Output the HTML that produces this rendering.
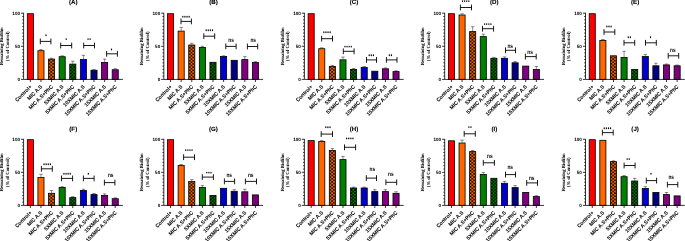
<!DOCTYPE html>
<html><head><meta charset="utf-8"><style>
html,body{margin:0;padding:0;background:#fff;width:685px;height:241px;overflow:hidden}
svg{display:block}
svg{will-change:transform}
text{font-family:"Liberation Sans",sans-serif;font-weight:bold;fill:#000;text-rendering:geometricPrecision}
.t{font-size:62.0px;text-anchor:middle;stroke:#000;stroke-width:1}
.yt{font-family:"Liberation Serif",serif;font-size:47.0px;text-anchor:middle;stroke:#000;stroke-width:0.6}
.yl{font-size:46.0px;text-anchor:end}
.xl{font-size:53.5px;text-anchor:end;stroke:#000;stroke-width:0.5}
.sg{font-size:48.0px;text-anchor:middle}
.ax{fill:none;stroke:#000;stroke-width:0.8}
.bar{stroke:#000;stroke-width:0.8}
.eb{fill:none;stroke:#000;stroke-width:0.45}
.br{fill:none;stroke:#000;stroke-width:0.9}
</style></head><body>
<svg width="685" height="241" viewBox="0 0 685 241">
<defs>
<pattern id="pA2" width="3.5" height="3.2" patternUnits="userSpaceOnUse" x="49.52" y="78.3"><rect width="3.5" height="3.2" fill="#100500"/><circle cx="0" cy="0" r="0.95" fill="#ff6600"/><circle cx="3.5" cy="0" r="0.95" fill="#ff6600"/><circle cx="1.75" cy="1.6" r="0.95" fill="#ff6600"/><circle cx="0" cy="3.2" r="0.95" fill="#ff6600"/><circle cx="3.5" cy="3.2" r="0.95" fill="#ff6600"/></pattern><pattern id="pA4" width="3.5" height="3.2" patternUnits="userSpaceOnUse" x="70.74" y="78.3"><rect width="3.5" height="3.2" fill="#001200"/><circle cx="0" cy="0" r="0.85" fill="#009a00"/><circle cx="3.5" cy="0" r="0.85" fill="#009a00"/><circle cx="1.75" cy="1.6" r="0.85" fill="#009a00"/><circle cx="0" cy="3.2" r="0.85" fill="#009a00"/><circle cx="3.5" cy="3.2" r="0.85" fill="#009a00"/></pattern><pattern id="pB2" width="3.5" height="3.2" patternUnits="userSpaceOnUse" x="189.72" y="78.3"><rect width="3.5" height="3.2" fill="#100500"/><circle cx="0" cy="0" r="0.95" fill="#ff6600"/><circle cx="3.5" cy="0" r="0.95" fill="#ff6600"/><circle cx="1.75" cy="1.6" r="0.95" fill="#ff6600"/><circle cx="0" cy="3.2" r="0.95" fill="#ff6600"/><circle cx="3.5" cy="3.2" r="0.95" fill="#ff6600"/></pattern><pattern id="pB4" width="3.5" height="3.2" patternUnits="userSpaceOnUse" x="210.94" y="78.3"><rect width="3.5" height="3.2" fill="#001200"/><circle cx="0" cy="0" r="0.85" fill="#009a00"/><circle cx="3.5" cy="0" r="0.85" fill="#009a00"/><circle cx="1.75" cy="1.6" r="0.85" fill="#009a00"/><circle cx="0" cy="3.2" r="0.85" fill="#009a00"/><circle cx="3.5" cy="3.2" r="0.85" fill="#009a00"/></pattern><pattern id="pC2" width="3.5" height="3.2" patternUnits="userSpaceOnUse" x="330.32" y="78.3"><rect width="3.5" height="3.2" fill="#100500"/><circle cx="0" cy="0" r="0.95" fill="#ff6600"/><circle cx="3.5" cy="0" r="0.95" fill="#ff6600"/><circle cx="1.75" cy="1.6" r="0.95" fill="#ff6600"/><circle cx="0" cy="3.2" r="0.95" fill="#ff6600"/><circle cx="3.5" cy="3.2" r="0.95" fill="#ff6600"/></pattern><pattern id="pC4" width="3.5" height="3.2" patternUnits="userSpaceOnUse" x="351.54" y="78.3"><rect width="3.5" height="3.2" fill="#001200"/><circle cx="0" cy="0" r="0.85" fill="#009a00"/><circle cx="3.5" cy="0" r="0.85" fill="#009a00"/><circle cx="1.75" cy="1.6" r="0.85" fill="#009a00"/><circle cx="0" cy="3.2" r="0.85" fill="#009a00"/><circle cx="3.5" cy="3.2" r="0.85" fill="#009a00"/></pattern><pattern id="pD2" width="3.5" height="3.2" patternUnits="userSpaceOnUse" x="470.62" y="78.3"><rect width="3.5" height="3.2" fill="#100500"/><circle cx="0" cy="0" r="0.95" fill="#ff6600"/><circle cx="3.5" cy="0" r="0.95" fill="#ff6600"/><circle cx="1.75" cy="1.6" r="0.95" fill="#ff6600"/><circle cx="0" cy="3.2" r="0.95" fill="#ff6600"/><circle cx="3.5" cy="3.2" r="0.95" fill="#ff6600"/></pattern><pattern id="pD4" width="3.5" height="3.2" patternUnits="userSpaceOnUse" x="491.84" y="78.3"><rect width="3.5" height="3.2" fill="#001200"/><circle cx="0" cy="0" r="0.85" fill="#009a00"/><circle cx="3.5" cy="0" r="0.85" fill="#009a00"/><circle cx="1.75" cy="1.6" r="0.85" fill="#009a00"/><circle cx="0" cy="3.2" r="0.85" fill="#009a00"/><circle cx="3.5" cy="3.2" r="0.85" fill="#009a00"/></pattern><pattern id="pE2" width="3.5" height="3.2" patternUnits="userSpaceOnUse" x="611.42" y="78.3"><rect width="3.5" height="3.2" fill="#100500"/><circle cx="0" cy="0" r="0.95" fill="#ff6600"/><circle cx="3.5" cy="0" r="0.95" fill="#ff6600"/><circle cx="1.75" cy="1.6" r="0.95" fill="#ff6600"/><circle cx="0" cy="3.2" r="0.95" fill="#ff6600"/><circle cx="3.5" cy="3.2" r="0.95" fill="#ff6600"/></pattern><pattern id="pE4" width="3.5" height="3.2" patternUnits="userSpaceOnUse" x="632.64" y="78.3"><rect width="3.5" height="3.2" fill="#001200"/><circle cx="0" cy="0" r="0.85" fill="#009a00"/><circle cx="3.5" cy="0" r="0.85" fill="#009a00"/><circle cx="1.75" cy="1.6" r="0.85" fill="#009a00"/><circle cx="0" cy="3.2" r="0.85" fill="#009a00"/><circle cx="3.5" cy="3.2" r="0.85" fill="#009a00"/></pattern><pattern id="pF2" width="3.5" height="3.2" patternUnits="userSpaceOnUse" x="49.52" y="204.3"><rect width="3.5" height="3.2" fill="#100500"/><circle cx="0" cy="0" r="0.95" fill="#ff6600"/><circle cx="3.5" cy="0" r="0.95" fill="#ff6600"/><circle cx="1.75" cy="1.6" r="0.95" fill="#ff6600"/><circle cx="0" cy="3.2" r="0.95" fill="#ff6600"/><circle cx="3.5" cy="3.2" r="0.95" fill="#ff6600"/></pattern><pattern id="pF4" width="3.5" height="3.2" patternUnits="userSpaceOnUse" x="70.74" y="204.3"><rect width="3.5" height="3.2" fill="#001200"/><circle cx="0" cy="0" r="0.85" fill="#009a00"/><circle cx="3.5" cy="0" r="0.85" fill="#009a00"/><circle cx="1.75" cy="1.6" r="0.85" fill="#009a00"/><circle cx="0" cy="3.2" r="0.85" fill="#009a00"/><circle cx="3.5" cy="3.2" r="0.85" fill="#009a00"/></pattern><pattern id="pG2" width="3.5" height="3.2" patternUnits="userSpaceOnUse" x="189.72" y="204.3"><rect width="3.5" height="3.2" fill="#100500"/><circle cx="0" cy="0" r="0.95" fill="#ff6600"/><circle cx="3.5" cy="0" r="0.95" fill="#ff6600"/><circle cx="1.75" cy="1.6" r="0.95" fill="#ff6600"/><circle cx="0" cy="3.2" r="0.95" fill="#ff6600"/><circle cx="3.5" cy="3.2" r="0.95" fill="#ff6600"/></pattern><pattern id="pG4" width="3.5" height="3.2" patternUnits="userSpaceOnUse" x="210.94" y="204.3"><rect width="3.5" height="3.2" fill="#001200"/><circle cx="0" cy="0" r="0.85" fill="#009a00"/><circle cx="3.5" cy="0" r="0.85" fill="#009a00"/><circle cx="1.75" cy="1.6" r="0.85" fill="#009a00"/><circle cx="0" cy="3.2" r="0.85" fill="#009a00"/><circle cx="3.5" cy="3.2" r="0.85" fill="#009a00"/></pattern><pattern id="pH2" width="3.5" height="3.2" patternUnits="userSpaceOnUse" x="330.32" y="204.3"><rect width="3.5" height="3.2" fill="#100500"/><circle cx="0" cy="0" r="0.95" fill="#ff6600"/><circle cx="3.5" cy="0" r="0.95" fill="#ff6600"/><circle cx="1.75" cy="1.6" r="0.95" fill="#ff6600"/><circle cx="0" cy="3.2" r="0.95" fill="#ff6600"/><circle cx="3.5" cy="3.2" r="0.95" fill="#ff6600"/></pattern><pattern id="pH4" width="3.5" height="3.2" patternUnits="userSpaceOnUse" x="351.54" y="204.3"><rect width="3.5" height="3.2" fill="#001200"/><circle cx="0" cy="0" r="0.85" fill="#009a00"/><circle cx="3.5" cy="0" r="0.85" fill="#009a00"/><circle cx="1.75" cy="1.6" r="0.85" fill="#009a00"/><circle cx="0" cy="3.2" r="0.85" fill="#009a00"/><circle cx="3.5" cy="3.2" r="0.85" fill="#009a00"/></pattern><pattern id="pI2" width="3.5" height="3.2" patternUnits="userSpaceOnUse" x="470.62" y="204.3"><rect width="3.5" height="3.2" fill="#100500"/><circle cx="0" cy="0" r="0.95" fill="#ff6600"/><circle cx="3.5" cy="0" r="0.95" fill="#ff6600"/><circle cx="1.75" cy="1.6" r="0.95" fill="#ff6600"/><circle cx="0" cy="3.2" r="0.95" fill="#ff6600"/><circle cx="3.5" cy="3.2" r="0.95" fill="#ff6600"/></pattern><pattern id="pI4" width="3.5" height="3.2" patternUnits="userSpaceOnUse" x="491.84" y="204.3"><rect width="3.5" height="3.2" fill="#001200"/><circle cx="0" cy="0" r="0.85" fill="#009a00"/><circle cx="3.5" cy="0" r="0.85" fill="#009a00"/><circle cx="1.75" cy="1.6" r="0.85" fill="#009a00"/><circle cx="0" cy="3.2" r="0.85" fill="#009a00"/><circle cx="3.5" cy="3.2" r="0.85" fill="#009a00"/></pattern><pattern id="pJ2" width="3.5" height="3.2" patternUnits="userSpaceOnUse" x="611.42" y="204.3"><rect width="3.5" height="3.2" fill="#100500"/><circle cx="0" cy="0" r="0.95" fill="#ff6600"/><circle cx="3.5" cy="0" r="0.95" fill="#ff6600"/><circle cx="1.75" cy="1.6" r="0.95" fill="#ff6600"/><circle cx="0" cy="3.2" r="0.95" fill="#ff6600"/><circle cx="3.5" cy="3.2" r="0.95" fill="#ff6600"/></pattern><pattern id="pJ4" width="3.5" height="3.2" patternUnits="userSpaceOnUse" x="632.64" y="204.3"><rect width="3.5" height="3.2" fill="#001200"/><circle cx="0" cy="0" r="0.85" fill="#009a00"/><circle cx="3.5" cy="0" r="0.85" fill="#009a00"/><circle cx="1.75" cy="1.6" r="0.85" fill="#009a00"/><circle cx="0" cy="3.2" r="0.85" fill="#009a00"/><circle cx="3.5" cy="3.2" r="0.85" fill="#009a00"/></pattern>
</defs>
<g><text class="t" transform="translate(73.25,4.1) scale(0.1)">(A)</text><text class="yt" transform="translate(2.8,46.3) rotate(-90) scale(0.1)">Remaining Biofilm</text><text class="yt" transform="translate(8.5,46.3) rotate(-90) scale(0.1)">(% of Control)</text><path class="ax" d="M21 79.4H23.6M22.3 76.09H23.6M22.3 72.78H23.6M22.3 69.47H23.6M22.3 66.16H23.6M22.3 62.85H23.6M22.3 59.54H23.6M22.3 56.23H23.6M22.3 52.92H23.6M22.3 49.61H23.6M21 46.3H23.6M22.3 42.99H23.6M22.3 39.68H23.6M22.3 36.37H23.6M22.3 33.06H23.6M22.3 29.75H23.6M22.3 26.44H23.6M22.3 23.13H23.6M22.3 19.82H23.6M22.3 16.51H23.6M21 13.2H23.6"/><text class="yl" transform="translate(20,81.15) scale(0.1)">0</text><text class="yl" transform="translate(20,48.05) scale(0.1)">50</text><text class="yl" transform="translate(20,14.95) scale(0.1)">100</text><rect x="27.3" y="13.7" width="6.1" height="65.7" fill="#ff0000" class="bar"/><path class="eb" d="M40.96 50.3V49.6M39.26 49.6H42.66"/><rect x="37.91" y="50.7" width="6.1" height="28.7" fill="#ff6600" class="bar"/><path class="eb" d="M51.57 58.7V58.2M49.87 58.2H53.27"/><rect x="48.52" y="59.1" width="6.1" height="20.3" fill="url(#pA2)" class="bar"/><path class="eb" d="M62.18 56.3V55.8M60.48 55.8H63.88"/><rect x="59.13" y="56.7" width="6.1" height="22.7" fill="#008000" class="bar"/><path class="eb" d="M72.79 63.7V61.2M71.09 61.2H74.49"/><rect x="69.74" y="64.1" width="6.1" height="15.3" fill="url(#pA4)" class="bar"/><path class="eb" d="M83.4 59.1V55.3M81.7 55.3H85.1"/><rect x="80.35" y="59.5" width="6.1" height="19.9" fill="#0000cc" class="bar"/><path class="eb" d="M94.01 69.85V69.5M92.31 69.5H95.71"/><rect x="90.96" y="70.25" width="6.1" height="9.15" fill="#000080" class="bar"/><path class="eb" d="M104.62 62.05V59.1M102.92 59.1H106.32"/><rect x="101.57" y="62.45" width="6.1" height="16.95" fill="#800080" class="bar"/><path class="eb" d="M115.23 69.35V68.7M113.53 68.7H116.93"/><rect x="112.18" y="69.75" width="6.1" height="9.65" fill="#780078" class="bar"/><path class="ax" d="M23.6 12.8V79.4H122.9M30.35 79.4v2.6M40.96 79.4v2.6M51.57 79.4v2.6M62.18 79.4v2.6M72.79 79.4v2.6M83.4 79.4v2.6M94.01 79.4v2.6M104.62 79.4v2.6M115.23 79.4v2.6"/><text class="xl" transform="translate(32.15,87.1) rotate(-45) scale(0.095,0.1)">Control+</text><text class="xl" transform="translate(42.76,87.1) rotate(-45) scale(0.095,0.1)">MIC A.S</text><text class="xl" transform="translate(53.37,87.1) rotate(-45) scale(0.095,0.1)">MIC A.S+PhC</text><text class="xl" transform="translate(63.98,87.1) rotate(-45) scale(0.095,0.1)">5XMIC A.S</text><text class="xl" transform="translate(74.59,87.1) rotate(-45) scale(0.095,0.1)">5XMIC A.S+PhC</text><text class="xl" transform="translate(85.2,87.1) rotate(-45) scale(0.095,0.1)">10XMIC A.S</text><text class="xl" transform="translate(95.81,87.1) rotate(-45) scale(0.095,0.1)">10XMIC A.S+PhC</text><text class="xl" transform="translate(106.42,87.1) rotate(-45) scale(0.095,0.1)">15XMIC A.S</text><text class="xl" transform="translate(117.03,87.1) rotate(-45) scale(0.095,0.1)">15XMIC A.S+PhC</text><path class="br" d="M40.3 38.5V44.3M50.9 38.5V44.3M40.3 41.4H50.9"/><ellipse cx="46" cy="35.2" rx="0.65" ry="0.95"/><path class="br" d="M60.7 42.6V48.4M71.7 42.6V48.4M60.7 45.5H71.7"/><ellipse cx="66.2" cy="39.1" rx="0.65" ry="0.95"/><path class="br" d="M83.7 42.6V48.4M94.5 42.6V48.4M83.7 45.5H94.5"/><ellipse cx="88.05" cy="39.1" rx="0.65" ry="0.95"/><ellipse cx="90.15" cy="39.1" rx="0.65" ry="0.95"/><path class="br" d="M106.6 50.9V56.7M117.4 50.9V56.7M106.6 53.8H117.4"/><ellipse cx="111.5" cy="49.5" rx="0.65" ry="0.95"/></g><g><text class="t" transform="translate(213.45,4.1) scale(0.1)">(B)</text><text class="yt" transform="translate(143,46.3) rotate(-90) scale(0.1)">Remaining Biofilm</text><text class="yt" transform="translate(148.7,46.3) rotate(-90) scale(0.1)">(% of Control)</text><path class="ax" d="M161.2 79.4H163.8M162.5 76.09H163.8M162.5 72.78H163.8M162.5 69.47H163.8M162.5 66.16H163.8M162.5 62.85H163.8M162.5 59.54H163.8M162.5 56.23H163.8M162.5 52.92H163.8M162.5 49.61H163.8M161.2 46.3H163.8M162.5 42.99H163.8M162.5 39.68H163.8M162.5 36.37H163.8M162.5 33.06H163.8M162.5 29.75H163.8M162.5 26.44H163.8M162.5 23.13H163.8M162.5 19.82H163.8M162.5 16.51H163.8M161.2 13.2H163.8"/><text class="yl" transform="translate(160.2,81.15) scale(0.1)">0</text><text class="yl" transform="translate(160.2,48.05) scale(0.1)">50</text><text class="yl" transform="translate(160.2,14.95) scale(0.1)">100</text><rect x="167.5" y="13.7" width="6.1" height="65.7" fill="#ff0000" class="bar"/><path class="eb" d="M181.16 30.7V27.4M179.46 27.4H182.86"/><rect x="178.11" y="31.1" width="6.1" height="48.3" fill="#ff6600" class="bar"/><path class="eb" d="M191.77 44.6V43.3M190.07 43.3H193.47"/><rect x="188.72" y="45" width="6.1" height="34.4" fill="url(#pB2)" class="bar"/><path class="eb" d="M202.38 47V46.3M200.68 46.3H204.08"/><rect x="199.33" y="47.4" width="6.1" height="32" fill="#008000" class="bar"/><rect x="209.94" y="62.3" width="6.1" height="17.1" fill="url(#pB4)" class="bar"/><path class="eb" d="M223.6 56.1V55.8M221.9 55.8H225.3"/><rect x="220.55" y="56.5" width="6.1" height="22.9" fill="#0000cc" class="bar"/><rect x="231.16" y="60.3" width="6.1" height="19.1" fill="#000080" class="bar"/><path class="eb" d="M244.82 59.2V56.6M243.12 56.6H246.52"/><rect x="241.77" y="59.6" width="6.1" height="19.8" fill="#800080" class="bar"/><path class="eb" d="M255.43 62.1V61.7M253.73 61.7H257.13"/><rect x="252.38" y="62.5" width="6.1" height="16.9" fill="#780078" class="bar"/><path class="ax" d="M163.8 12.8V79.4H263.1M170.55 79.4v2.6M181.16 79.4v2.6M191.77 79.4v2.6M202.38 79.4v2.6M212.99 79.4v2.6M223.6 79.4v2.6M234.21 79.4v2.6M244.82 79.4v2.6M255.43 79.4v2.6"/><text class="xl" transform="translate(172.35,87.1) rotate(-45) scale(0.095,0.1)">Control+</text><text class="xl" transform="translate(182.96,87.1) rotate(-45) scale(0.095,0.1)">MIC A.S</text><text class="xl" transform="translate(193.57,87.1) rotate(-45) scale(0.095,0.1)">MIC A.S+PhC</text><text class="xl" transform="translate(204.18,87.1) rotate(-45) scale(0.095,0.1)">5XMIC A.S</text><text class="xl" transform="translate(214.79,87.1) rotate(-45) scale(0.095,0.1)">5XMIC A.S+PhC</text><text class="xl" transform="translate(225.4,87.1) rotate(-45) scale(0.095,0.1)">10XMIC A.S</text><text class="xl" transform="translate(236.01,87.1) rotate(-45) scale(0.095,0.1)">10XMIC A.S+PhC</text><text class="xl" transform="translate(246.62,87.1) rotate(-45) scale(0.095,0.1)">15XMIC A.S</text><text class="xl" transform="translate(257.23,87.1) rotate(-45) scale(0.095,0.1)">15XMIC A.S+PhC</text><path class="br" d="M181 18.5V24.3M191.4 18.5V24.3M181 21.4H191.4"/><ellipse cx="182.85" cy="16.7" rx="0.65" ry="0.95"/><ellipse cx="184.95" cy="16.7" rx="0.65" ry="0.95"/><ellipse cx="187.05" cy="16.7" rx="0.65" ry="0.95"/><ellipse cx="189.15" cy="16.7" rx="0.65" ry="0.95"/><path class="br" d="M203.8 33.3V39.1M214.7 33.3V39.1M203.8 36.2H214.7"/><ellipse cx="206.15" cy="30.2" rx="0.65" ry="0.95"/><ellipse cx="208.25" cy="30.2" rx="0.65" ry="0.95"/><ellipse cx="210.35" cy="30.2" rx="0.65" ry="0.95"/><ellipse cx="212.45" cy="30.2" rx="0.65" ry="0.95"/><path class="br" d="M225.8 43.5V49.3M236.1 43.5V49.3M225.8 46.4H236.1"/><text class="sg" transform="translate(231,41.62) scale(0.1,0.13)">ns</text><path class="br" d="M247.4 43.6V49.4M257.7 43.6V49.4M247.4 46.5H257.7"/><text class="sg" transform="translate(253.2,41.62) scale(0.1,0.13)">ns</text></g><g><text class="t" transform="translate(354.05,4.1) scale(0.1)">(C)</text><text class="yt" transform="translate(283.6,46.3) rotate(-90) scale(0.1)">Remaining Biofilm</text><text class="yt" transform="translate(289.3,46.3) rotate(-90) scale(0.1)">(% of Control)</text><path class="ax" d="M301.8 79.4H304.4M303.1 76.09H304.4M303.1 72.78H304.4M303.1 69.47H304.4M303.1 66.16H304.4M303.1 62.85H304.4M303.1 59.54H304.4M303.1 56.23H304.4M303.1 52.92H304.4M303.1 49.61H304.4M301.8 46.3H304.4M303.1 42.99H304.4M303.1 39.68H304.4M303.1 36.37H304.4M303.1 33.06H304.4M303.1 29.75H304.4M303.1 26.44H304.4M303.1 23.13H304.4M303.1 19.82H304.4M303.1 16.51H304.4M301.8 13.2H304.4"/><text class="yl" transform="translate(300.8,81.15) scale(0.1)">0</text><text class="yl" transform="translate(300.8,48.05) scale(0.1)">50</text><text class="yl" transform="translate(300.8,14.95) scale(0.1)">100</text><rect x="308.1" y="13.7" width="6.1" height="65.7" fill="#ff0000" class="bar"/><path class="eb" d="M321.76 48.3V47.8M320.06 47.8H323.46"/><rect x="318.71" y="48.7" width="6.1" height="30.7" fill="#ff6600" class="bar"/><path class="eb" d="M332.37 66V65.4M330.67 65.4H334.07"/><rect x="329.32" y="66.4" width="6.1" height="13" fill="url(#pC2)" class="bar"/><path class="eb" d="M342.98 59.4V57.1M341.28 57.1H344.68"/><rect x="339.93" y="59.8" width="6.1" height="19.6" fill="#008000" class="bar"/><path class="eb" d="M353.59 69V68.5M351.89 68.5H355.29"/><rect x="350.54" y="69.4" width="6.1" height="10" fill="url(#pC4)" class="bar"/><path class="eb" d="M364.2 67V66.5M362.5 66.5H365.9"/><rect x="361.15" y="67.4" width="6.1" height="12" fill="#0000cc" class="bar"/><rect x="371.76" y="71.2" width="6.1" height="8.2" fill="#000080" class="bar"/><path class="eb" d="M385.42 68.4V67.9M383.72 67.9H387.12"/><rect x="382.37" y="68.8" width="6.1" height="10.6" fill="#800080" class="bar"/><path class="eb" d="M396.03 71.2V70.8M394.33 70.8H397.73"/><rect x="392.98" y="71.6" width="6.1" height="7.8" fill="#780078" class="bar"/><path class="ax" d="M304.4 12.8V79.4H403.7M311.15 79.4v2.6M321.76 79.4v2.6M332.37 79.4v2.6M342.98 79.4v2.6M353.59 79.4v2.6M364.2 79.4v2.6M374.81 79.4v2.6M385.42 79.4v2.6M396.03 79.4v2.6"/><text class="xl" transform="translate(312.95,87.1) rotate(-45) scale(0.095,0.1)">Control+</text><text class="xl" transform="translate(323.56,87.1) rotate(-45) scale(0.095,0.1)">MIC A.S</text><text class="xl" transform="translate(334.17,87.1) rotate(-45) scale(0.095,0.1)">MIC A.S+PhC</text><text class="xl" transform="translate(344.78,87.1) rotate(-45) scale(0.095,0.1)">5XMIC A.S</text><text class="xl" transform="translate(355.39,87.1) rotate(-45) scale(0.095,0.1)">5XMIC A.S+PhC</text><text class="xl" transform="translate(366,87.1) rotate(-45) scale(0.095,0.1)">10XMIC A.S</text><text class="xl" transform="translate(376.61,87.1) rotate(-45) scale(0.095,0.1)">10XMIC A.S+PhC</text><text class="xl" transform="translate(387.22,87.1) rotate(-45) scale(0.095,0.1)">15XMIC A.S</text><text class="xl" transform="translate(397.83,87.1) rotate(-45) scale(0.095,0.1)">15XMIC A.S+PhC</text><path class="br" d="M321.6 35.8V41.6M332.5 35.8V41.6M321.6 38.7H332.5"/><ellipse cx="323.85" cy="32.3" rx="0.65" ry="0.95"/><ellipse cx="325.95" cy="32.3" rx="0.65" ry="0.95"/><ellipse cx="328.05" cy="32.3" rx="0.65" ry="0.95"/><ellipse cx="330.15" cy="32.3" rx="0.65" ry="0.95"/><path class="br" d="M343.3 48.4V54.2M354.1 48.4V54.2M343.3 51.3H354.1"/><ellipse cx="344.95" cy="46.6" rx="0.65" ry="0.95"/><ellipse cx="347.05" cy="46.6" rx="0.65" ry="0.95"/><ellipse cx="349.15" cy="46.6" rx="0.65" ry="0.95"/><ellipse cx="351.25" cy="46.6" rx="0.65" ry="0.95"/><path class="br" d="M366.5 57V62.8M376.5 57V62.8M366.5 59.9H376.5"/><ellipse cx="369.2" cy="55.2" rx="0.65" ry="0.95"/><ellipse cx="371.3" cy="55.2" rx="0.65" ry="0.95"/><ellipse cx="373.4" cy="55.2" rx="0.65" ry="0.95"/><path class="br" d="M386.4 57V62.8M397 57V62.8M386.4 59.9H397"/><ellipse cx="389.35" cy="55.2" rx="0.65" ry="0.95"/><ellipse cx="391.45" cy="55.2" rx="0.65" ry="0.95"/></g><g><text class="t" transform="translate(494.35,4.1) scale(0.1)">(D)</text><text class="yt" transform="translate(423.9,46.3) rotate(-90) scale(0.1)">Remaining Biofilm</text><text class="yt" transform="translate(429.6,46.3) rotate(-90) scale(0.1)">(% of Control)</text><path class="ax" d="M442.1 79.4H444.7M443.4 76.09H444.7M443.4 72.78H444.7M443.4 69.47H444.7M443.4 66.16H444.7M443.4 62.85H444.7M443.4 59.54H444.7M443.4 56.23H444.7M443.4 52.92H444.7M443.4 49.61H444.7M442.1 46.3H444.7M443.4 42.99H444.7M443.4 39.68H444.7M443.4 36.37H444.7M443.4 33.06H444.7M443.4 29.75H444.7M443.4 26.44H444.7M443.4 23.13H444.7M443.4 19.82H444.7M443.4 16.51H444.7M442.1 13.2H444.7"/><text class="yl" transform="translate(441.1,81.15) scale(0.1)">0</text><text class="yl" transform="translate(441.1,48.05) scale(0.1)">50</text><text class="yl" transform="translate(441.1,14.95) scale(0.1)">100</text><rect x="448.4" y="13.7" width="6.1" height="65.7" fill="#ff0000" class="bar"/><path class="eb" d="M462.06 14.6V13.8M460.36 13.8H463.76"/><rect x="459.01" y="15" width="6.1" height="64.4" fill="#ff6600" class="bar"/><path class="eb" d="M472.67 31.2V26.7M470.97 26.7H474.37"/><rect x="469.62" y="31.6" width="6.1" height="47.8" fill="url(#pD2)" class="bar"/><path class="eb" d="M483.28 36.2V34.2M481.58 34.2H484.98"/><rect x="480.23" y="36.6" width="6.1" height="42.8" fill="#008000" class="bar"/><path class="eb" d="M493.89 57.9V57.4M492.19 57.4H495.59"/><rect x="490.84" y="58.3" width="6.1" height="21.1" fill="url(#pD4)" class="bar"/><path class="eb" d="M504.5 57.9V56.9M502.8 56.9H506.2"/><rect x="501.45" y="58.3" width="6.1" height="21.1" fill="#0000cc" class="bar"/><path class="eb" d="M515.11 62.4V61.6M513.41 61.6H516.81"/><rect x="512.06" y="62.8" width="6.1" height="16.6" fill="#000080" class="bar"/><rect x="522.67" y="66.1" width="6.1" height="13.3" fill="#800080" class="bar"/><path class="eb" d="M536.33 69V66.5M534.63 66.5H538.03"/><rect x="533.28" y="69.4" width="6.1" height="10" fill="#780078" class="bar"/><path class="ax" d="M444.7 12.8V79.4H544M451.45 79.4v2.6M462.06 79.4v2.6M472.67 79.4v2.6M483.28 79.4v2.6M493.89 79.4v2.6M504.5 79.4v2.6M515.11 79.4v2.6M525.72 79.4v2.6M536.33 79.4v2.6"/><text class="xl" transform="translate(453.25,87.1) rotate(-45) scale(0.095,0.1)">Control+</text><text class="xl" transform="translate(463.86,87.1) rotate(-45) scale(0.095,0.1)">MIC A.S</text><text class="xl" transform="translate(474.47,87.1) rotate(-45) scale(0.095,0.1)">MIC A.S+PhC</text><text class="xl" transform="translate(485.08,87.1) rotate(-45) scale(0.095,0.1)">5XMIC A.S</text><text class="xl" transform="translate(495.69,87.1) rotate(-45) scale(0.095,0.1)">5XMIC A.S+PhC</text><text class="xl" transform="translate(506.3,87.1) rotate(-45) scale(0.095,0.1)">10XMIC A.S</text><text class="xl" transform="translate(516.91,87.1) rotate(-45) scale(0.095,0.1)">10XMIC A.S+PhC</text><text class="xl" transform="translate(527.52,87.1) rotate(-45) scale(0.095,0.1)">15XMIC A.S</text><text class="xl" transform="translate(538.13,87.1) rotate(-45) scale(0.095,0.1)">15XMIC A.S+PhC</text><path class="br" d="M460.4 4.6V10.4M471.5 4.6V10.4M460.4 7.5H471.5"/><ellipse cx="462.55" cy="1.1" rx="0.65" ry="0.95"/><ellipse cx="464.65" cy="1.1" rx="0.65" ry="0.95"/><ellipse cx="466.75" cy="1.1" rx="0.65" ry="0.95"/><ellipse cx="468.85" cy="1.1" rx="0.65" ry="0.95"/><path class="br" d="M482.5 25.8V31.6M493.6 25.8V31.6M482.5 28.7H493.6"/><ellipse cx="484.65" cy="24.1" rx="0.65" ry="0.95"/><ellipse cx="486.75" cy="24.1" rx="0.65" ry="0.95"/><ellipse cx="488.85" cy="24.1" rx="0.65" ry="0.95"/><ellipse cx="490.95" cy="24.1" rx="0.65" ry="0.95"/><path class="br" d="M505.5 47.4V53.2M515.5 47.4V53.2M505.5 50.3H515.5"/><text class="sg" transform="translate(510.2,47.92) scale(0.1,0.13)">ns</text><path class="br" d="M525.4 53.7V59.5M536.2 53.7V59.5M525.4 56.6H536.2"/><text class="sg" transform="translate(530.1,54.02) scale(0.1,0.13)">ns</text></g><g><text class="t" transform="translate(635.15,4.1) scale(0.1)">(E)</text><text class="yt" transform="translate(564.7,46.3) rotate(-90) scale(0.1)">Remaining Biofilm</text><text class="yt" transform="translate(570.4,46.3) rotate(-90) scale(0.1)">(% of Control)</text><path class="ax" d="M582.9 79.4H585.5M584.2 76.09H585.5M584.2 72.78H585.5M584.2 69.47H585.5M584.2 66.16H585.5M584.2 62.85H585.5M584.2 59.54H585.5M584.2 56.23H585.5M584.2 52.92H585.5M584.2 49.61H585.5M582.9 46.3H585.5M584.2 42.99H585.5M584.2 39.68H585.5M584.2 36.37H585.5M584.2 33.06H585.5M584.2 29.75H585.5M584.2 26.44H585.5M584.2 23.13H585.5M584.2 19.82H585.5M584.2 16.51H585.5M582.9 13.2H585.5"/><text class="yl" transform="translate(581.9,81.15) scale(0.1)">0</text><text class="yl" transform="translate(581.9,48.05) scale(0.1)">50</text><text class="yl" transform="translate(581.9,14.95) scale(0.1)">100</text><rect x="589.2" y="13.7" width="6.1" height="65.7" fill="#ff0000" class="bar"/><path class="eb" d="M602.86 40V39.5M601.16 39.5H604.56"/><rect x="599.81" y="40.4" width="6.1" height="39" fill="#ff6600" class="bar"/><rect x="610.42" y="55.8" width="6.1" height="23.6" fill="url(#pE2)" class="bar"/><path class="eb" d="M624.08 57.1V51.3M622.38 51.3H625.78"/><rect x="621.03" y="57.5" width="6.1" height="21.9" fill="#008000" class="bar"/><rect x="631.64" y="69.4" width="6.1" height="10" fill="url(#pE4)" class="bar"/><path class="eb" d="M645.3 56.1V54.6M643.6 54.6H647"/><rect x="642.25" y="56.5" width="6.1" height="22.9" fill="#0000cc" class="bar"/><path class="eb" d="M655.91 65.4V63.2M654.21 63.2H657.61"/><rect x="652.86" y="65.8" width="6.1" height="13.6" fill="#000080" class="bar"/><path class="eb" d="M666.52 64.5V64M664.82 64H668.22"/><rect x="663.47" y="64.9" width="6.1" height="14.5" fill="#800080" class="bar"/><path class="eb" d="M677.13 65.4V65M675.43 65H678.83"/><rect x="674.08" y="65.8" width="6.1" height="13.6" fill="#780078" class="bar"/><path class="ax" d="M585.5 12.8V79.4H684.8M592.25 79.4v2.6M602.86 79.4v2.6M613.47 79.4v2.6M624.08 79.4v2.6M634.69 79.4v2.6M645.3 79.4v2.6M655.91 79.4v2.6M666.52 79.4v2.6M677.13 79.4v2.6"/><text class="xl" transform="translate(594.05,87.1) rotate(-45) scale(0.095,0.1)">Control+</text><text class="xl" transform="translate(604.66,87.1) rotate(-45) scale(0.095,0.1)">MIC A.S</text><text class="xl" transform="translate(615.27,87.1) rotate(-45) scale(0.095,0.1)">MIC A.S+PhC</text><text class="xl" transform="translate(625.88,87.1) rotate(-45) scale(0.095,0.1)">5XMIC A.S</text><text class="xl" transform="translate(636.49,87.1) rotate(-45) scale(0.095,0.1)">5XMIC A.S+PhC</text><text class="xl" transform="translate(647.1,87.1) rotate(-45) scale(0.095,0.1)">10XMIC A.S</text><text class="xl" transform="translate(657.71,87.1) rotate(-45) scale(0.095,0.1)">10XMIC A.S+PhC</text><text class="xl" transform="translate(668.32,87.1) rotate(-45) scale(0.095,0.1)">15XMIC A.S</text><text class="xl" transform="translate(678.93,87.1) rotate(-45) scale(0.095,0.1)">15XMIC A.S+PhC</text><path class="br" d="M604 29.1V34.9M614.8 29.1V34.9M604 32H614.8"/><ellipse cx="606.9" cy="26.5" rx="0.65" ry="0.95"/><ellipse cx="609" cy="26.5" rx="0.65" ry="0.95"/><ellipse cx="611.1" cy="26.5" rx="0.65" ry="0.95"/><path class="br" d="M624 39.9V45.7M634.7 39.9V45.7M624 42.8H634.7"/><ellipse cx="628.25" cy="37.3" rx="0.65" ry="0.95"/><ellipse cx="630.35" cy="37.3" rx="0.65" ry="0.95"/><path class="br" d="M645.5 39.9V45.7M656.3 39.9V45.7M645.5 42.8H656.3"/><ellipse cx="650.5" cy="37.3" rx="0.65" ry="0.95"/><path class="br" d="M668.2 52.9V58.7M678.7 52.9V58.7M668.2 55.8H678.7"/><text class="sg" transform="translate(672.9,51.62) scale(0.1,0.13)">ns</text></g><g><text class="t" transform="translate(73.25,130.6) scale(0.1)">(F)</text><text class="yt" transform="translate(2.8,172.35) rotate(-90) scale(0.1)">Remaining Biofilm</text><text class="yt" transform="translate(8.5,172.35) rotate(-90) scale(0.1)">(% of Control)</text><path class="ax" d="M21 205.4H23.6M22.3 202.09H23.6M22.3 198.79H23.6M22.3 195.49H23.6M22.3 192.18H23.6M22.3 188.88H23.6M22.3 185.57H23.6M22.3 182.27H23.6M22.3 178.96H23.6M22.3 175.66H23.6M21 172.35H23.6M22.3 169.05H23.6M22.3 165.74H23.6M22.3 162.44H23.6M22.3 159.13H23.6M22.3 155.83H23.6M22.3 152.52H23.6M22.3 149.22H23.6M22.3 145.91H23.6M22.3 142.61H23.6M21 139.3H23.6"/><text class="yl" transform="translate(20,207.15) scale(0.1)">0</text><text class="yl" transform="translate(20,174.1) scale(0.1)">50</text><text class="yl" transform="translate(20,141.05) scale(0.1)">100</text><rect x="27.3" y="139.7" width="6.1" height="65.7" fill="#ff0000" class="bar"/><path class="eb" d="M40.96 177.1V174.3M39.26 174.3H42.66"/><rect x="37.91" y="177.5" width="6.1" height="27.9" fill="#ff6600" class="bar"/><path class="eb" d="M51.57 192.9V190.5M49.87 190.5H53.27"/><rect x="48.52" y="193.3" width="6.1" height="12.1" fill="url(#pF2)" class="bar"/><path class="eb" d="M62.18 187.1V186.7M60.48 186.7H63.88"/><rect x="59.13" y="187.5" width="6.1" height="17.9" fill="#008000" class="bar"/><path class="eb" d="M72.79 197.2V196.7M71.09 196.7H74.49"/><rect x="69.74" y="197.6" width="6.1" height="7.8" fill="url(#pF4)" class="bar"/><path class="eb" d="M83.4 190.1V189.2M81.7 189.2H85.1"/><rect x="80.35" y="190.5" width="6.1" height="14.9" fill="#0000cc" class="bar"/><path class="eb" d="M94.01 194.2V193.5M92.31 193.5H95.71"/><rect x="90.96" y="194.6" width="6.1" height="10.8" fill="#000080" class="bar"/><path class="eb" d="M104.62 195V193.9M102.92 193.9H106.32"/><rect x="101.57" y="195.4" width="6.1" height="10" fill="#800080" class="bar"/><path class="eb" d="M115.23 198.3V197.8M113.53 197.8H116.93"/><rect x="112.18" y="198.7" width="6.1" height="6.7" fill="#780078" class="bar"/><path class="ax" d="M23.6 138.9V205.4H122.9M30.35 205.4v2.6M40.96 205.4v2.6M51.57 205.4v2.6M62.18 205.4v2.6M72.79 205.4v2.6M83.4 205.4v2.6M94.01 205.4v2.6M104.62 205.4v2.6M115.23 205.4v2.6"/><text class="xl" transform="translate(32.15,213.1) rotate(-45) scale(0.095,0.1)">Control+</text><text class="xl" transform="translate(42.76,213.1) rotate(-45) scale(0.095,0.1)">MIC A.S</text><text class="xl" transform="translate(53.37,213.1) rotate(-45) scale(0.095,0.1)">MIC A.S+PhC</text><text class="xl" transform="translate(63.98,213.1) rotate(-45) scale(0.095,0.1)">5XMIC A.S</text><text class="xl" transform="translate(74.59,213.1) rotate(-45) scale(0.095,0.1)">5XMIC A.S+PhC</text><text class="xl" transform="translate(85.2,213.1) rotate(-45) scale(0.095,0.1)">10XMIC A.S</text><text class="xl" transform="translate(95.81,213.1) rotate(-45) scale(0.095,0.1)">10XMIC A.S+PhC</text><text class="xl" transform="translate(106.42,213.1) rotate(-45) scale(0.095,0.1)">15XMIC A.S</text><text class="xl" transform="translate(117.03,213.1) rotate(-45) scale(0.095,0.1)">15XMIC A.S+PhC</text><path class="br" d="M41.4 165.9V171.7M52.3 165.9V171.7M41.4 168.8H52.3"/><ellipse cx="44.05" cy="164.2" rx="0.65" ry="0.95"/><ellipse cx="46.15" cy="164.2" rx="0.65" ry="0.95"/><ellipse cx="48.25" cy="164.2" rx="0.65" ry="0.95"/><ellipse cx="50.35" cy="164.2" rx="0.65" ry="0.95"/><path class="br" d="M61.5 175.5V181.3M72.6 175.5V181.3M61.5 178.4H72.6"/><ellipse cx="63.95" cy="173.8" rx="0.65" ry="0.95"/><ellipse cx="66.05" cy="173.8" rx="0.65" ry="0.95"/><ellipse cx="68.15" cy="173.8" rx="0.65" ry="0.95"/><ellipse cx="70.25" cy="173.8" rx="0.65" ry="0.95"/><path class="br" d="M83.4 175.5V181.3M94.1 175.5V181.3M83.4 178.4H94.1"/><ellipse cx="88.3" cy="173.8" rx="0.65" ry="0.95"/><path class="br" d="M104.4 179.7V185.5M114.9 179.7V185.5M104.4 182.6H114.9"/><text class="sg" transform="translate(110.7,177.22) scale(0.1,0.13)">ns</text></g><g><text class="t" transform="translate(213.45,130.6) scale(0.1)">(G)</text><text class="yt" transform="translate(143,172.35) rotate(-90) scale(0.1)">Remaining Biofilm</text><text class="yt" transform="translate(148.7,172.35) rotate(-90) scale(0.1)">(% of Control)</text><path class="ax" d="M161.2 205.4H163.8M162.5 202.09H163.8M162.5 198.79H163.8M162.5 195.49H163.8M162.5 192.18H163.8M162.5 188.88H163.8M162.5 185.57H163.8M162.5 182.27H163.8M162.5 178.96H163.8M162.5 175.66H163.8M161.2 172.35H163.8M162.5 169.05H163.8M162.5 165.74H163.8M162.5 162.44H163.8M162.5 159.13H163.8M162.5 155.83H163.8M162.5 152.52H163.8M162.5 149.22H163.8M162.5 145.91H163.8M162.5 142.61H163.8M161.2 139.3H163.8"/><text class="yl" transform="translate(160.2,207.15) scale(0.1)">0</text><text class="yl" transform="translate(160.2,174.1) scale(0.1)">50</text><text class="yl" transform="translate(160.2,141.05) scale(0.1)">100</text><rect x="167.5" y="139.7" width="6.1" height="65.7" fill="#ff0000" class="bar"/><path class="eb" d="M181.16 165V164.5M179.46 164.5H182.86"/><rect x="178.11" y="165.4" width="6.1" height="40" fill="#ff6600" class="bar"/><path class="eb" d="M191.77 181.1V179.6M190.07 179.6H193.47"/><rect x="188.72" y="181.5" width="6.1" height="23.9" fill="url(#pG2)" class="bar"/><path class="eb" d="M202.38 187.1V185.6M200.68 185.6H204.08"/><rect x="199.33" y="187.5" width="6.1" height="17.9" fill="#008000" class="bar"/><rect x="209.94" y="195.4" width="6.1" height="10" fill="url(#pG4)" class="bar"/><rect x="220.55" y="188.3" width="6.1" height="17.1" fill="#0000cc" class="bar"/><path class="eb" d="M234.21 190.9V189.7M232.51 189.7H235.91"/><rect x="231.16" y="191.3" width="6.1" height="14.1" fill="#000080" class="bar"/><path class="eb" d="M244.82 191.4V189.2M243.12 189.2H246.52"/><rect x="241.77" y="191.8" width="6.1" height="13.6" fill="#800080" class="bar"/><rect x="252.38" y="194.9" width="6.1" height="10.5" fill="#780078" class="bar"/><path class="ax" d="M163.8 138.9V205.4H263.1M170.55 205.4v2.6M181.16 205.4v2.6M191.77 205.4v2.6M202.38 205.4v2.6M212.99 205.4v2.6M223.6 205.4v2.6M234.21 205.4v2.6M244.82 205.4v2.6M255.43 205.4v2.6"/><text class="xl" transform="translate(172.35,213.1) rotate(-45) scale(0.095,0.1)">Control+</text><text class="xl" transform="translate(182.96,213.1) rotate(-45) scale(0.095,0.1)">MIC A.S</text><text class="xl" transform="translate(193.57,213.1) rotate(-45) scale(0.095,0.1)">MIC A.S+PhC</text><text class="xl" transform="translate(204.18,213.1) rotate(-45) scale(0.095,0.1)">5XMIC A.S</text><text class="xl" transform="translate(214.79,213.1) rotate(-45) scale(0.095,0.1)">5XMIC A.S+PhC</text><text class="xl" transform="translate(225.4,213.1) rotate(-45) scale(0.095,0.1)">10XMIC A.S</text><text class="xl" transform="translate(236.01,213.1) rotate(-45) scale(0.095,0.1)">10XMIC A.S+PhC</text><text class="xl" transform="translate(246.62,213.1) rotate(-45) scale(0.095,0.1)">15XMIC A.S</text><text class="xl" transform="translate(257.23,213.1) rotate(-45) scale(0.095,0.1)">15XMIC A.S+PhC</text><path class="br" d="M183.6 154.3V160.1M194.5 154.3V160.1M183.6 157.2H194.5"/><ellipse cx="185.75" cy="150.1" rx="0.65" ry="0.95"/><ellipse cx="187.85" cy="150.1" rx="0.65" ry="0.95"/><ellipse cx="189.95" cy="150.1" rx="0.65" ry="0.95"/><ellipse cx="192.05" cy="150.1" rx="0.65" ry="0.95"/><path class="br" d="M202.3 174.2V180M213.4 174.2V180M202.3 177.1H213.4"/><ellipse cx="206.8" cy="172.6" rx="0.65" ry="0.95"/><ellipse cx="208.9" cy="172.6" rx="0.65" ry="0.95"/><ellipse cx="211" cy="172.6" rx="0.65" ry="0.95"/><path class="br" d="M224.4 178.5V184.3M234.6 178.5V184.3M224.4 181.4H234.6"/><text class="sg" transform="translate(229.2,177.22) scale(0.1,0.13)">ns</text><path class="br" d="M245.4 178.5V184.3M256.5 178.5V184.3M245.4 181.4H256.5"/><text class="sg" transform="translate(250.7,177.22) scale(0.1,0.13)">ns</text></g><g><text class="t" transform="translate(354.05,130.6) scale(0.1)">(H)</text><text class="yt" transform="translate(283.6,172.35) rotate(-90) scale(0.1)">Remaining Biofilm</text><text class="yt" transform="translate(289.3,172.35) rotate(-90) scale(0.1)">(% of Control)</text><path class="ax" d="M301.8 205.4H304.4M303.1 202.09H304.4M303.1 198.79H304.4M303.1 195.49H304.4M303.1 192.18H304.4M303.1 188.88H304.4M303.1 185.57H304.4M303.1 182.27H304.4M303.1 178.96H304.4M303.1 175.66H304.4M301.8 172.35H304.4M303.1 169.05H304.4M303.1 165.74H304.4M303.1 162.44H304.4M303.1 159.13H304.4M303.1 155.83H304.4M303.1 152.52H304.4M303.1 149.22H304.4M303.1 145.91H304.4M303.1 142.61H304.4M301.8 139.3H304.4"/><text class="yl" transform="translate(300.8,207.15) scale(0.1)">0</text><text class="yl" transform="translate(300.8,174.1) scale(0.1)">50</text><text class="yl" transform="translate(300.8,141.05) scale(0.1)">100</text><rect x="308.1" y="140.6" width="6.1" height="64.8" fill="#ff0000" class="bar"/><path class="eb" d="M321.76 141V140.6M320.06 140.6H323.46"/><rect x="318.71" y="141.4" width="6.1" height="64" fill="#ff6600" class="bar"/><path class="eb" d="M332.37 150.1V148.6M330.67 148.6H334.07"/><rect x="329.32" y="150.5" width="6.1" height="54.9" fill="url(#pH2)" class="bar"/><path class="eb" d="M342.98 159.2V156.4M341.28 156.4H344.68"/><rect x="339.93" y="159.6" width="6.1" height="45.8" fill="#008000" class="bar"/><path class="eb" d="M353.59 187.6V187.1M351.89 187.1H355.29"/><rect x="350.54" y="188" width="6.1" height="17.4" fill="url(#pH4)" class="bar"/><path class="eb" d="M364.2 187.6V187.1M362.5 187.1H365.9"/><rect x="361.15" y="188" width="6.1" height="17.4" fill="#0000cc" class="bar"/><path class="eb" d="M374.81 191.2V189.7M373.11 189.7H376.51"/><rect x="371.76" y="191.6" width="6.1" height="13.8" fill="#000080" class="bar"/><path class="eb" d="M385.42 191.2V189.7M383.72 189.7H387.12"/><rect x="382.37" y="191.6" width="6.1" height="13.8" fill="#800080" class="bar"/><path class="eb" d="M396.03 192.9V191.7M394.33 191.7H397.73"/><rect x="392.98" y="193.3" width="6.1" height="12.1" fill="#780078" class="bar"/><path class="ax" d="M304.4 138.9V205.4H403.7M311.15 205.4v2.6M321.76 205.4v2.6M332.37 205.4v2.6M342.98 205.4v2.6M353.59 205.4v2.6M364.2 205.4v2.6M374.81 205.4v2.6M385.42 205.4v2.6M396.03 205.4v2.6"/><text class="xl" transform="translate(312.95,213.1) rotate(-45) scale(0.095,0.1)">Control+</text><text class="xl" transform="translate(323.56,213.1) rotate(-45) scale(0.095,0.1)">MIC A.S</text><text class="xl" transform="translate(334.17,213.1) rotate(-45) scale(0.095,0.1)">MIC A.S+PhC</text><text class="xl" transform="translate(344.78,213.1) rotate(-45) scale(0.095,0.1)">5XMIC A.S</text><text class="xl" transform="translate(355.39,213.1) rotate(-45) scale(0.095,0.1)">5XMIC A.S+PhC</text><text class="xl" transform="translate(366,213.1) rotate(-45) scale(0.095,0.1)">10XMIC A.S</text><text class="xl" transform="translate(376.61,213.1) rotate(-45) scale(0.095,0.1)">10XMIC A.S+PhC</text><text class="xl" transform="translate(387.22,213.1) rotate(-45) scale(0.095,0.1)">15XMIC A.S</text><text class="xl" transform="translate(397.83,213.1) rotate(-45) scale(0.095,0.1)">15XMIC A.S+PhC</text><path class="br" d="M321.2 131.2V137M332.5 131.2V137M321.2 134.1H332.5"/><ellipse cx="325.8" cy="127.3" rx="0.65" ry="0.95"/><ellipse cx="327.9" cy="127.3" rx="0.65" ry="0.95"/><ellipse cx="330" cy="127.3" rx="0.65" ry="0.95"/><path class="br" d="M344.5 144.4V150.2M355.6 144.4V150.2M344.5 147.3H355.6"/><ellipse cx="346.65" cy="138.4" rx="0.65" ry="0.95"/><ellipse cx="348.75" cy="138.4" rx="0.65" ry="0.95"/><ellipse cx="350.85" cy="138.4" rx="0.65" ry="0.95"/><ellipse cx="352.95" cy="138.4" rx="0.65" ry="0.95"/><path class="br" d="M366.3 175.2V181M376.5 175.2V181M366.3 178.1H376.5"/><text class="sg" transform="translate(372.3,170.62) scale(0.1,0.13)">ns</text><path class="br" d="M385.9 179.4V185.2M396.7 179.4V185.2M385.9 182.3H396.7"/><text class="sg" transform="translate(390.9,175.92) scale(0.1,0.13)">ns</text></g><g><text class="t" transform="translate(494.35,130.6) scale(0.1)">(I)</text><text class="yt" transform="translate(423.9,172.35) rotate(-90) scale(0.1)">Remaining Biofilm</text><text class="yt" transform="translate(429.6,172.35) rotate(-90) scale(0.1)">(% of Control)</text><path class="ax" d="M442.1 205.4H444.7M443.4 202.09H444.7M443.4 198.79H444.7M443.4 195.49H444.7M443.4 192.18H444.7M443.4 188.88H444.7M443.4 185.57H444.7M443.4 182.27H444.7M443.4 178.96H444.7M443.4 175.66H444.7M442.1 172.35H444.7M443.4 169.05H444.7M443.4 165.74H444.7M443.4 162.44H444.7M443.4 159.13H444.7M443.4 155.83H444.7M443.4 152.52H444.7M443.4 149.22H444.7M443.4 145.91H444.7M443.4 142.61H444.7M442.1 139.3H444.7"/><text class="yl" transform="translate(441.1,207.15) scale(0.1)">0</text><text class="yl" transform="translate(441.1,174.1) scale(0.1)">50</text><text class="yl" transform="translate(441.1,141.05) scale(0.1)">100</text><rect x="448.4" y="140.8" width="6.1" height="64.6" fill="#ff0000" class="bar"/><path class="eb" d="M462.06 142.6V140.1M460.36 140.1H463.76"/><rect x="459.01" y="143" width="6.1" height="62.4" fill="#ff6600" class="bar"/><path class="eb" d="M472.67 151.2V150.5M470.97 150.5H474.37"/><rect x="469.62" y="151.6" width="6.1" height="53.8" fill="url(#pI2)" class="bar"/><path class="eb" d="M483.28 174V172.6M481.58 172.6H484.98"/><rect x="480.23" y="174.4" width="6.1" height="31" fill="#008000" class="bar"/><rect x="490.84" y="178.3" width="6.1" height="27.1" fill="url(#pI4)" class="bar"/><path class="eb" d="M504.5 182.9V181.4M502.8 181.4H506.2"/><rect x="501.45" y="183.3" width="6.1" height="22.1" fill="#0000cc" class="bar"/><path class="eb" d="M515.11 187.2V185.6M513.41 185.6H516.81"/><rect x="512.06" y="187.6" width="6.1" height="17.8" fill="#000080" class="bar"/><rect x="522.67" y="192.4" width="6.1" height="13" fill="#800080" class="bar"/><path class="eb" d="M536.33 196.2V195.7M534.63 195.7H538.03"/><rect x="533.28" y="196.6" width="6.1" height="8.8" fill="#780078" class="bar"/><path class="ax" d="M444.7 138.9V205.4H544M451.45 205.4v2.6M462.06 205.4v2.6M472.67 205.4v2.6M483.28 205.4v2.6M493.89 205.4v2.6M504.5 205.4v2.6M515.11 205.4v2.6M525.72 205.4v2.6M536.33 205.4v2.6"/><text class="xl" transform="translate(453.25,213.1) rotate(-45) scale(0.095,0.1)">Control+</text><text class="xl" transform="translate(463.86,213.1) rotate(-45) scale(0.095,0.1)">MIC A.S</text><text class="xl" transform="translate(474.47,213.1) rotate(-45) scale(0.095,0.1)">MIC A.S+PhC</text><text class="xl" transform="translate(485.08,213.1) rotate(-45) scale(0.095,0.1)">5XMIC A.S</text><text class="xl" transform="translate(495.69,213.1) rotate(-45) scale(0.095,0.1)">5XMIC A.S+PhC</text><text class="xl" transform="translate(506.3,213.1) rotate(-45) scale(0.095,0.1)">10XMIC A.S</text><text class="xl" transform="translate(516.91,213.1) rotate(-45) scale(0.095,0.1)">10XMIC A.S+PhC</text><text class="xl" transform="translate(527.52,213.1) rotate(-45) scale(0.095,0.1)">15XMIC A.S</text><text class="xl" transform="translate(538.13,213.1) rotate(-45) scale(0.095,0.1)">15XMIC A.S+PhC</text><path class="br" d="M464.2 130.9V136.7M475.3 130.9V136.7M464.2 133.8H475.3"/><ellipse cx="468.85" cy="127.1" rx="0.65" ry="0.95"/><ellipse cx="470.95" cy="127.1" rx="0.65" ry="0.95"/><path class="br" d="M483.3 159.9V165.7M494.4 159.9V165.7M483.3 162.8H494.4"/><text class="sg" transform="translate(489.8,157.92) scale(0.1,0.13)">ns</text><path class="br" d="M505.5 171.7V177.5M515.5 171.7V177.5M505.5 174.6H515.5"/><text class="sg" transform="translate(510.2,168.92) scale(0.1,0.13)">ns</text><path class="br" d="M526.7 180V185.8M537.5 180V185.8M526.7 182.9H537.5"/><text class="sg" transform="translate(531.7,179.52) scale(0.1,0.13)">ns</text></g><g><text class="t" transform="translate(635.15,130.6) scale(0.1)">(J)</text><text class="yt" transform="translate(564.7,172.35) rotate(-90) scale(0.1)">Remaining Biofilm</text><text class="yt" transform="translate(570.4,172.35) rotate(-90) scale(0.1)">(% of Control)</text><path class="ax" d="M582.9 205.4H585.5M584.2 202.09H585.5M584.2 198.79H585.5M584.2 195.49H585.5M584.2 192.18H585.5M584.2 188.88H585.5M584.2 185.57H585.5M584.2 182.27H585.5M584.2 178.96H585.5M584.2 175.66H585.5M582.9 172.35H585.5M584.2 169.05H585.5M584.2 165.74H585.5M584.2 162.44H585.5M584.2 159.13H585.5M584.2 155.83H585.5M584.2 152.52H585.5M584.2 149.22H585.5M584.2 145.91H585.5M584.2 142.61H585.5M582.9 139.3H585.5"/><text class="yl" transform="translate(581.9,207.15) scale(0.1)">0</text><text class="yl" transform="translate(581.9,174.1) scale(0.1)">50</text><text class="yl" transform="translate(581.9,141.05) scale(0.1)">100</text><rect x="589.2" y="139.7" width="6.1" height="65.7" fill="#ff0000" class="bar"/><rect x="599.81" y="140.3" width="6.1" height="65.1" fill="#ff6600" class="bar"/><path class="eb" d="M613.47 161.2V160.8M611.77 160.8H615.17"/><rect x="610.42" y="161.6" width="6.1" height="43.8" fill="url(#pJ2)" class="bar"/><path class="eb" d="M624.08 176.3V175.6M622.38 175.6H625.78"/><rect x="621.03" y="176.7" width="6.1" height="28.7" fill="#008000" class="bar"/><path class="eb" d="M634.69 180.6V178.4M632.99 178.4H636.39"/><rect x="631.64" y="181" width="6.1" height="24.4" fill="url(#pJ4)" class="bar"/><path class="eb" d="M645.3 188.1V186.7M643.6 186.7H647"/><rect x="642.25" y="188.5" width="6.1" height="16.9" fill="#0000cc" class="bar"/><rect x="652.86" y="192.4" width="6.1" height="13" fill="#000080" class="bar"/><path class="eb" d="M666.52 194.2V192.5M664.82 192.5H668.22"/><rect x="663.47" y="194.6" width="6.1" height="10.8" fill="#800080" class="bar"/><rect x="674.08" y="195.9" width="6.1" height="9.5" fill="#780078" class="bar"/><path class="ax" d="M585.5 138.9V205.4H684.8M592.25 205.4v2.6M602.86 205.4v2.6M613.47 205.4v2.6M624.08 205.4v2.6M634.69 205.4v2.6M645.3 205.4v2.6M655.91 205.4v2.6M666.52 205.4v2.6M677.13 205.4v2.6"/><text class="xl" transform="translate(594.05,213.1) rotate(-45) scale(0.095,0.1)">Control+</text><text class="xl" transform="translate(604.66,213.1) rotate(-45) scale(0.095,0.1)">MIC A.S</text><text class="xl" transform="translate(615.27,213.1) rotate(-45) scale(0.095,0.1)">MIC A.S+PhC</text><text class="xl" transform="translate(625.88,213.1) rotate(-45) scale(0.095,0.1)">5XMIC A.S</text><text class="xl" transform="translate(636.49,213.1) rotate(-45) scale(0.095,0.1)">5XMIC A.S+PhC</text><text class="xl" transform="translate(647.1,213.1) rotate(-45) scale(0.095,0.1)">10XMIC A.S</text><text class="xl" transform="translate(657.71,213.1) rotate(-45) scale(0.095,0.1)">10XMIC A.S+PhC</text><text class="xl" transform="translate(668.32,213.1) rotate(-45) scale(0.095,0.1)">15XMIC A.S</text><text class="xl" transform="translate(678.93,213.1) rotate(-45) scale(0.095,0.1)">15XMIC A.S+PhC</text><path class="br" d="M602.4 129.7V135.5M613.2 129.7V135.5M602.4 132.6H613.2"/><ellipse cx="604.25" cy="128.3" rx="0.65" ry="0.95"/><ellipse cx="606.35" cy="128.3" rx="0.65" ry="0.95"/><ellipse cx="608.45" cy="128.3" rx="0.65" ry="0.95"/><ellipse cx="610.55" cy="128.3" rx="0.65" ry="0.95"/><path class="br" d="M624.1 162.6V168.4M635.1 162.6V168.4M624.1 165.5H635.1"/><ellipse cx="627.15" cy="159.1" rx="0.65" ry="0.95"/><ellipse cx="629.25" cy="159.1" rx="0.65" ry="0.95"/><path class="br" d="M646.3 177.7V183.5M656.6 177.7V183.5M646.3 180.6H656.6"/><ellipse cx="651" cy="173.8" rx="0.65" ry="0.95"/><path class="br" d="M667.4 181.7V187.5M677.8 181.7V187.5M667.4 184.6H677.8"/><text class="sg" transform="translate(671.2,178.92) scale(0.1,0.13)">ns</text></g>
</svg>
</body></html>
